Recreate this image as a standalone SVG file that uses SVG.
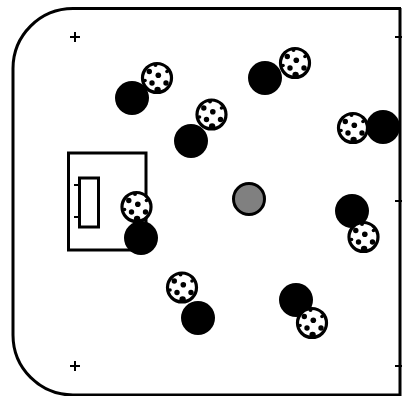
<svg xmlns="http://www.w3.org/2000/svg" width="402" height="396" viewBox="0 0 402 396">
<style>
.l{fill:none;stroke:#000;stroke-width:3}
.t{fill:none;stroke:#000;stroke-width:2}
.p{fill:#000}
.b{fill:#fff;stroke:#000;stroke-width:3.200}
.d{fill:#000}
</style>
<defs>
<g id="ball">
<circle class="b" r="14.500"/>
<circle class="d" cx="-7.700" cy="-6.500" r="2.700"/>
<circle class="d" cx="1.300" cy="-2.700" r="2.800"/>
<circle class="d" cx="-5" cy="5" r="2.700"/>
<circle class="d" cx="9" cy="5" r="2.700"/>
<circle class="d" cx="0.600" cy="12" r="3.200"/>
<circle class="d" cx="10" cy="-6.500" r="1.800"/>
<circle class="d" cx="-1.500" cy="-13" r="2"/>
<circle class="d" cx="-12" cy="2.500" r="1.800"/>
</g>
</defs>
<g id="field">
<path class="l" d="M401 8.500H73A60 60 0 0 0 13 68.500V335A60 60 0 0 0 73 395H401"/>
<path class="l" d="M400 8V396"/>
<rect class="l" x="68.500" y="153" width="77.500" height="97"/>
<rect class="l" x="79.500" y="178" width="19" height="49"/>
<path class="t" d="M74 185H79M74 217H79M70 37H80M75 32V42M70 366H80M75 361V371M395 37H402M395 201H402M395 366H402"/>
<circle cx="249" cy="199" r="15.500" fill="#808080" stroke="#000" stroke-width="3"/>
</g>
<g id="pair1"><circle class="p" cx="132" cy="98" r="17"/><use href="#ball" x="157" y="78"/></g>
<g id="pair2"><circle class="p" cx="191" cy="141" r="17"/><use href="#ball" x="211.500" y="114.500"/></g>
<g id="pair3"><circle class="p" cx="265" cy="78" r="17"/><use href="#ball" x="295" y="63"/></g>
<g id="pair4"><circle class="p" cx="383" cy="127" r="17"/><use href="#ball" x="353" y="128"/></g>
<g id="pair5"><use href="#ball" x="136.500" y="207"/><circle class="p" cx="141" cy="238" r="17"/></g>
<g id="pair6"><circle class="p" cx="198" cy="318" r="17"/><use href="#ball" x="182" y="287.500"/></g>
<g id="pair7"><circle class="p" cx="352" cy="211" r="17"/><use href="#ball" x="363.500" y="237"/></g>
<g id="pair8"><circle class="p" cx="296" cy="300" r="17"/><use href="#ball" x="312" y="323"/></g>
</svg>
